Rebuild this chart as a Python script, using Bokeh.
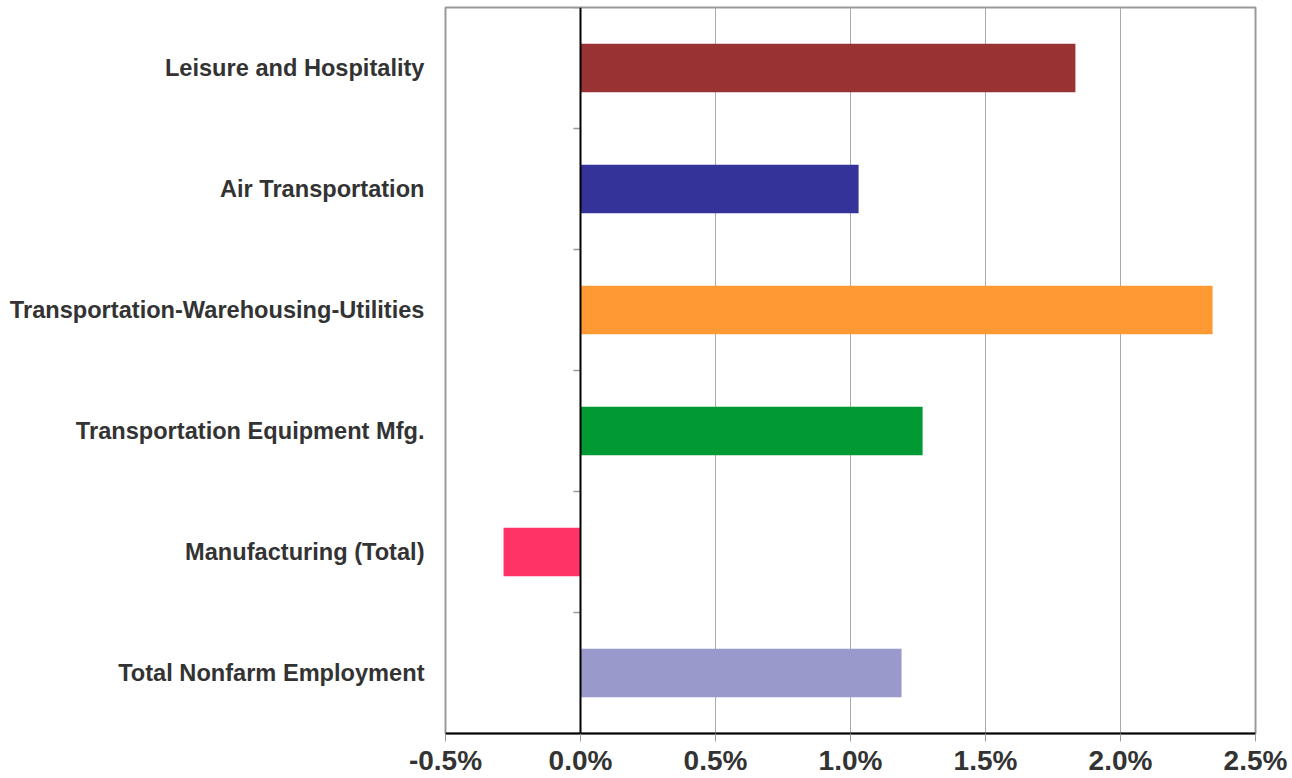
from bokeh.plotting import figure
from bokeh.models import FixedTicker, PrintfTickFormatter, Span, Range1d
from bokeh.embed import file_html
from bokeh.resources import INLINE

categories = ["Leisure and Hospitality", "Air Transportation",
              "Transportation-Warehousing-Utilities", "Transportation Equipment Mfg.",
              "Manufacturing (Total)", "Total Nonfarm Employment"]
values = [1.833, 1.030, 2.341, 1.267, -0.285, 1.189]
colors = ["#993333", "#333399", "#FF9933", "#009933", "#FF3366", "#9999CC"]
x_ticks = [-0.5, 0.0, 0.5, 1.0, 1.5, 2.0, 2.5]

n = len(categories)
centers = [n - 0.5 - i for i in range(n)]
bounds = list(range(n + 1))

p = figure(width=1292, height=778, output_backend="svg", toolbar_location=None,
           x_range=Range1d(x_ticks[0], x_ticks[-1]), y_range=Range1d(0, n),
           min_border_left=445, min_border_right=37, min_border_top=7, min_border_bottom=40)

p.outline_line_color = "#999999"
p.outline_line_width = 2
p.background_fill_color = "white"

p.hbar(y=centers, left=0, right=values, height=0.4, fill_color=colors, line_color=None)

p.add_layout(Span(location=0, dimension="height", line_color="black", line_width=2))
p.segment(x0=[-0.026] * len(bounds), x1=[0] * len(bounds), y0=bounds, y1=bounds,
          line_color="#999999", line_width=1.5)

# x axis
xa = p.xaxis[0]
xa.ticker = FixedTicker(ticks=x_ticks)
xa.formatter = PrintfTickFormatter(format="%.1f%%")
xa.axis_line_color = "black"
xa.axis_line_width = 2
xa.major_tick_line_color = "#999999"
xa.major_tick_out = 8
xa.major_tick_in = 0
xa.minor_tick_line_color = None
xa.major_label_standoff = 3
xa.major_label_text_font = "Liberation Sans"
xa.major_label_text_font_style = "bold"
xa.major_label_text_font_size = "28px"
xa.major_label_text_color = "#333333"

# y axis
ya = p.yaxis[0]
ya.ticker = FixedTicker(ticks=centers)
ya.major_label_overrides = {c: cat for c, cat in zip(centers, categories)}
ya.axis_line_color = None
ya.major_tick_line_color = None
ya.minor_tick_line_color = None
ya.major_tick_out = 0
ya.major_tick_in = 0
ya.major_label_standoff = 21
ya.major_label_text_font = "Liberation Sans"
ya.major_label_text_font_style = "bold"
ya.major_label_text_font_size = "23.6px"
ya.major_label_text_color = "#333333"

p.xgrid.ticker = FixedTicker(ticks=x_ticks)
p.xgrid.grid_line_color = "#aaaaaa"
p.xgrid.grid_line_width = 1
p.ygrid.grid_line_color = None

open("out.html", "w").write(file_html(p, INLINE))
